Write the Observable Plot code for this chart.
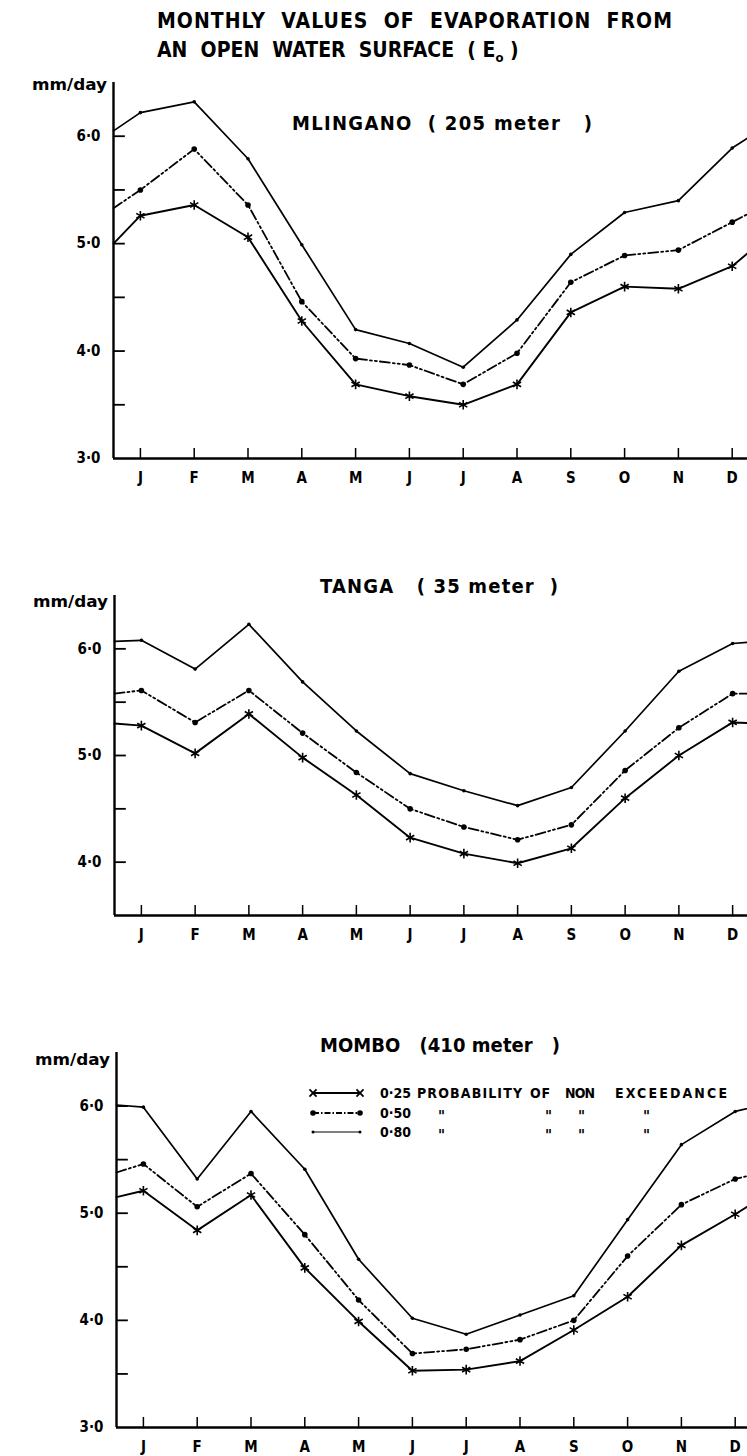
<!DOCTYPE html>
<html><head><meta charset="utf-8">
<script src="https://cdn.jsdelivr.net/npm/d3@7"></script>
<script src="https://cdn.jsdelivr.net/npm/@observablehq/plot@0.6"></script>
<style>
html,body{margin:0;padding:0;background:#fff;overflow:hidden}
#wrap{position:relative;width:747px;height:1456px;background:#fff;overflow:hidden}
#wrap > svg{position:absolute;left:0;margin:0}
</style></head><body><div id="wrap"></div>
<script>
const FONT = '"DejaVu Sans Condensed","DejaVu Sans",sans-serif';
const months = ["J","F","M","A","M","J","J","A","S","O","N","D"];
const probLevels = ["0·25","0·50","0·80"];
const titleLines = ["MONTHLY  VALUES  OF  EVAPORATION  FROM", "AN  OPEN  WATER  SURFACE  ( E"];
const stations = ["MLINGANO  ( 205 meter   )", "TANGA   ( 35 meter  )", "MOMBO   (410 meter   )"];

// Mlingano (205 m)
const mlingano25 = [5.26,5.36,5.06,4.28,3.69,3.58,3.50,3.69,4.36,4.60,4.58,4.79];
const mlingano50 = [5.50,5.88,5.36,4.46,3.93,3.87,3.69,3.98,4.64,4.89,4.94,5.20];
const mlingano80 = [6.22,6.32,5.79,4.99,4.20,4.07,3.85,4.29,4.90,5.29,5.40,5.89];
const mlinganoEdge = [5.00,5.33,6.05];   // values where the curves meet the frame edges
// Tanga (35 m)
const tanga25 = [5.28,5.02,5.39,4.98,4.63,4.23,4.08,3.99,4.13,4.60,5.00,5.31];
const tanga50 = [5.61,5.31,5.61,5.21,4.84,4.50,4.33,4.21,4.35,4.86,5.26,5.58];
const tanga80 = [6.08,5.81,6.23,5.69,5.23,4.83,4.67,4.53,4.70,5.23,5.79,6.05];
const tangaEdge = [5.30,5.58,6.07];
// Mombo (410 m)
const mombo25 = [5.21,4.84,5.17,4.49,3.99,3.53,3.54,3.62,3.91,4.22,4.70,4.99];
const mombo50 = [5.46,5.06,5.37,4.80,4.19,3.69,3.73,3.82,4.00,4.60,5.08,5.32];
const mombo80 = [5.99,5.32,5.95,5.41,4.57,4.02,3.87,4.05,4.23,4.94,5.64,5.95];
const momboEdge = [5.15,5.38,6.01];

const yMinorTicks1 = [3.5,4,4.5,5,5.5,6];
const yLabelTicks1 = [3,4,5,6];
const yMinorTicks2 = [4,4.5,5,5.5,6];
const yLabelTicks2 = [4,5,6];

const wrap = document.getElementById("wrap");
const fmt = d => d.toFixed(1).replace(".", "·");

function series(vals, edge) {
  return [{x:-0.5, y:edge}, ...vals.map((v,i)=>({x:i, y:v})), {x:11.5, y:edge}];
}

function panel({top, height, mt, mb, xr, yDom, s, edge, minor, labels}) {
  const [a,b,c] = s;
  const l25 = series(a, edge[0]), l50 = series(b, edge[1]), l80 = series(c, edge[2]);
  const pts = arr => arr.map((v,i)=>({x:i,y:v}));
  const y0 = yDom[0], y1 = yDom[1];
  const unit = (height - mt - mb) / (y1 - y0);
  const p = Plot.plot({
    width: 747, height, marginTop: mt, marginBottom: mb, marginLeft: xr[0], marginRight: 0,
    x: {domain:[-0.5, 11.5], range: xr},
    y: {domain: yDom},
    style: {background: "transparent", overflow: "visible", fontFamily: FONT},
    marks: [
      Plot.ruleX([-0.5], {y1: y0, y2: y1, stroke: "black", strokeWidth: 2.4}),
      Plot.ruleY([y0], {x1: -0.5, x2: 11.5, stroke: "black", strokeWidth: 2.4}),
      Plot.ruleY(minor, {x1: -0.5, x2: -0.28, stroke: "black", strokeWidth: 1.8}),
      Plot.ruleX(d3.range(12), {y1: y0, y2: y0 + 10/unit, stroke: "black", strokeWidth: 1.5}),
      Plot.axisY(labels, {tickSize: 0, tickPadding: 13, tickFormat: fmt, fontSize: 15, fontWeight: "bold", label: null}),
      Plot.axisX(d3.range(12), {tickSize: 0, tickPadding: 14, tickFormat: i => months[i], fontSize: 15, fontWeight: "bold", label: null}),
      Plot.line(l80, {x:"x", y:"y", stroke:"black", strokeWidth:1.7}),
      Plot.line(l50, {x:"x", y:"y", stroke:"black", strokeWidth:1.8, strokeDasharray:"10 3 2 3 2 3"}),
      Plot.line(l25, {x:"x", y:"y", stroke:"black", strokeWidth:1.9}),
      Plot.dot(pts(c), {x:"x", y:"y", r:1.8, fill:"black"}),
      Plot.dot(pts(b), {x:"x", y:"y", r:2.8, fill:"black"}),
      Plot.dot(pts(a), {x:"x", y:"y", r:4.5, symbol:"asterisk", stroke:"black", strokeWidth:1.6})
    ]
  });
  p.style.top = top + "px";
  wrap.appendChild(p);
}

panel({top:60, height:440, mt:22, mb:42, xr:[113, 758.6], yDom:[3,6.5],
  s:[mlingano25, mlingano50, mlingano80], edge: mlinganoEdge, minor: yMinorTicks1, labels: yLabelTicks1});
panel({top:560, height:390, mt:35, mb:35, xr:[114, 759], yDom:[3.5,6.5],
  s:[tanga25, tanga50, tanga80], edge: tangaEdge, minor: yMinorTicks2, labels: yLabelTicks2});
panel({top:1030, height:426, mt:22, mb:29, xr:[116, 761.6], yDom:[3,6.5],
  s:[mombo25, mombo50, mombo80], edge: momboEdge, minor: yMinorTicks1, labels: yLabelTicks1});

// overlay text: title, station labels, units, legend
const svg = d3.select(wrap).append("svg")
  .attr("width", 747).attr("height", 1456)
  .style("top", "0px").style("pointer-events","none")
  .attr("font-family", FONT).attr("font-weight", "bold").attr("fill", "black");

svg.append("text").attr("x",157).attr("y",28).attr("font-size",21)
  .attr("textLength",515).attr("lengthAdjust","spacing").style("white-space","pre").text(titleLines[0]);
const t2 = svg.append("text").attr("x",157).attr("y",57).attr("font-size",21).style("white-space","pre");
t2.append("tspan").text(titleLines[1]);
t2.append("tspan").attr("font-size",13).attr("dy",5).text("o");
t2.append("tspan").attr("dy",-5).text(" )");

const stationPos = [[292,129.5,300],[320,592.5,238],[320,1052,240]];
stations.forEach((s,i)=>{
  const [x,y,w] = stationPos[i];
  svg.append("text").attr("x",x).attr("y",y).attr("font-size",20)
    .attr("textLength",w).attr("lengthAdjust","spacing").style("white-space","pre").text(s);
});

[[107,90],[108,607],[110,1065]].forEach(([x,y])=>{
  svg.append("text").attr("x",x).attr("y",y).attr("font-size",15).attr("text-anchor","end")
    .attr("textLength",75).attr("lengthAdjust","spacingAndGlyphs").text("mm/day");
});

// legend (Mombo panel)
const rows = [1093, 1113, 1132];
const dashes = [null, "6 2 1.5 2", null];
rows.forEach((y,k)=>{
  const ln = svg.append("line").attr("x1",313).attr("x2",360).attr("y1",y).attr("y2",y)
    .attr("stroke","black").attr("stroke-width", k===2?1.2:1.8);
  if (dashes[k]) ln.attr("stroke-dasharray", dashes[k]);
  [313,360].forEach(x=>{
    if (k===0) svg.append("path").attr("d", d3.symbol(d3.symbolTimes, 34)())
      .attr("transform",`translate(${x},${y})`).attr("stroke","black").attr("stroke-width",1.8).attr("fill","none");
    else svg.append("circle").attr("cx",x).attr("cy",y).attr("r", k===1?2.8:1.5);
  });
  svg.append("text").attr("x",380).attr("y",y+5).attr("font-size",14).text(probLevels[k]);
  if (k===0) {
    [["PROBABILITY",417,105],["OF",530,20],["NON",565,30],["EXCEEDANCE",615,112]].forEach(([t,x,w])=>{
      svg.append("text").attr("x",x).attr("y",y+5).attr("font-size",14)
        .attr("textLength",w).attr("lengthAdjust","spacing").text(t);
    });
  } else {
    [438,545,578,643].forEach(x=>{
      svg.append("text").attr("x",x).attr("y",y+9).attr("font-size",15).text('"');
    });
  }
});
</script></body></html>
